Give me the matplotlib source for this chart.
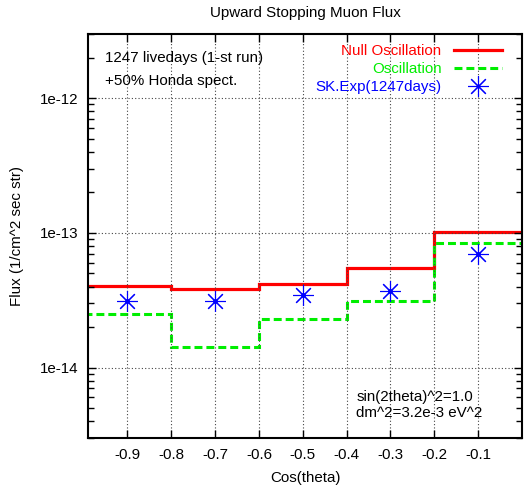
import matplotlib
matplotlib.use("Agg")
import matplotlib.pyplot as plt
from matplotlib.ticker import LogLocator, NullFormatter, FixedLocator

plt.rcParams['font.family'] = ['Liberation Sans', 'DejaVu Sans']

# bins in cos(theta)
edges = [-1.0, -0.8, -0.6, -0.4, -0.2, 0.0]
centers = [-0.9, -0.7, -0.5, -0.3, -0.1]

# flux (1/cm^2 sec str)
null_osc = [4.01e-14, 3.83e-14, 4.17e-14, 5.48e-14, 1.02e-13]
osc = [2.48e-14, 1.43e-14, 2.28e-14, 3.10e-14, 8.38e-14]
sk_exp = [3.12e-14, 3.12e-14, 3.45e-14, 3.72e-14, 7.03e-14]

xticks = [-0.9, -0.8, -0.7, -0.6, -0.5, -0.4, -0.3, -0.2, -0.1]
yticks = [1e-14, 1e-13, 1e-12]
ylabels = ["1e-14", "1e-13", "1e-12"]

fs = 10.9

fig = plt.figure(figsize=(5.27, 4.9), dpi=100)
ax = fig.add_axes([0.167, 0.1061, 0.8235, 0.8245])

ax.stairs(null_osc, edges, baseline=None, color='#ff0000', lw=2.3, label='Null Oscillation')
ax.stairs(osc, edges, baseline=None, color='#00ee00', lw=2.2, linestyle=(0, (2.6, 1.3)), label='Oscillation')
ax.plot(centers, sk_exp, ls='none', marker=(8, 2, 0), ms=15, mew=0.8, color='#0000ff', label='SK.Exp(1247days)')
ax.plot(centers, sk_exp, ls='none', marker='o', ms=2.5, color='#0000ff')

ax.set_yscale('log')
ax.set_xlim(-0.99, 0.0)
ax.set_ylim(3e-15, 3e-12)

ax.xaxis.set_major_locator(FixedLocator(xticks))
ax.set_xticklabels([f"{t:.1f}" for t in xticks])
ax.set_yticks(yticks)
ax.set_yticklabels(ylabels)
ax.yaxis.set_minor_locator(LogLocator(base=10, subs=range(2, 10)))
ax.yaxis.set_minor_formatter(NullFormatter())

ax.tick_params(which='both', direction='in', top=True, right=True, labelsize=fs, pad=7)
ax.tick_params(which='major', length=6, width=1)
ax.tick_params(which='minor', length=4, width=1)
ax.grid(True, which='major', ls=(0, (1, 2)), color='#444444', lw=0.8)
for s in ax.spines.values():
    s.set_linewidth(1.5)

ax.set_title("Upward Stopping Muon Flux", fontsize=fs, pad=12)
ax.set_xlabel("Cos(theta)", fontsize=fs, labelpad=7)
ax.set_ylabel("Flux (1/cm^2 sec str)", fontsize=fs, labelpad=11)

ax.text(0.039, 0.94, "1247 livedays (1-st run)", transform=ax.transAxes, fontsize=fs, va='center')
ax.text(0.039, 0.883, "+50% Honda spect.", transform=ax.transAxes, fontsize=fs, va='center')
ax.text(0.618, 0.101, "sin(2theta)^2=1.0", transform=ax.transAxes, fontsize=fs, va='center')
ax.text(0.618, 0.062, "dm^2=3.2e-3 eV^2", transform=ax.transAxes, fontsize=fs, va='center')

leg = ax.legend(loc='upper right', bbox_to_anchor=(0.977, 1.0), frameon=False, fontsize=fs,
                markerfirst=False, handlelength=3.2, handletextpad=0.8, labelspacing=0.28,
                borderaxespad=0.25)
for txt, c in zip(leg.get_texts(), ['#ff0000', '#00ee00', '#0000ff']):
    txt.set_color(c)
    txt.set_ha('right')

fig.savefig("out.png", dpi=100)
